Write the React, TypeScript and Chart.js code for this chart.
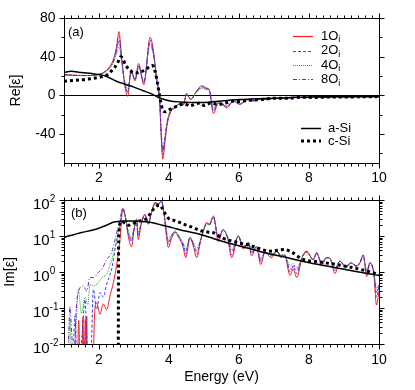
import React, { useEffect, useRef } from 'react';
import { Chart, registerables } from 'chart.js';
Chart.register(...registerables);

const FONT = "'Liberation Sans', Arial, Helvetica, sans-serif";

// ---------- axis ticks ----------
const energyTicks = [2, 4, 6, 8, 10];
const reTicks = [-40, 0, 40, 80];
const imDecades = [-2, -1, 0, 1, 2];

// ---------- panel (a): Re[eps] ----------
const reE = [1.0, 1.3, 1.6, 1.9, 2.1, 2.25, 2.4, 2.5, 2.57, 2.65, 2.73, 2.82, 2.92, 3.03, 3.13, 3.28, 3.46, 3.56, 3.65, 3.73, 3.78, 3.82, 3.88, 3.95, 4.05, 4.17, 4.3, 4.41, 4.5, 4.62, 4.78, 4.93, 5.08, 5.15, 5.27, 5.41, 5.5, 5.65, 5.84, 6.03, 6.22, 6.4, 6.6, 6.8, 7.0, 7.3, 7.6, 7.9, 8.2, 8.5, 8.8, 9.1, 9.4, 9.7, 10.0];
const re1O = [21.5, 20.8, 20.5, 21, 23, 27, 36, 50, 66, 38, 12, -1, 27, 15, 33, 11, 60, 45, 15, -5, -45, -66, -50, -30, -17, -13, -9, -10, 2, -4.5, 4, 10, 7.5, 6, -19, -8, -9, -13, -6, -9.5, -4.5, -6, -4, -4.5, -3, -3.5, -2, -2.5, -1.5, -2.2, -1.5, -2, -1.3, -1.8, -1.5];
const re2O = [21.3, 20.7, 20.5, 21, 23, 27, 35, 48, 61, 37, 13, 3, 25, 16, 31, 13, 57, 43, 16, -4, -42, -61, -47, -28, -16, -12.5, -9, -9.5, 1, -4, 3.5, 9, 7, 5.5, -16, -8, -8.5, -12, -6, -9, -4.5, -5.5, -4, -4.2, -3, -3.3, -2, -2.4, -1.5, -2.1, -1.5, -1.9, -1.3, -1.7, -1.5];
const re4O = [21, 20.6, 20.4, 20.8, 22.5, 26, 33, 43, 50, 34, 15, 7, 23, 17, 28, 15, 52, 40, 17, -2, -38, -55, -43, -26, -15, -12, -9, -9, 0, -3.5, 3, 7, 6, 4.5, -13, -7.5, -8, -11, -6, -8.5, -4.5, -5.3, -4, -4, -3, -3.2, -2, -2.3, -1.5, -2, -1.5, -1.8, -1.3, -1.6, -1.5];
const re8O = [21.2, 20.6, 20.4, 20.8, 22.8, 26.5, 34, 46, 57, 36, 14, 4, 24, 16, 30, 14, 55, 42, 16, -3, -40, -58, -45, -27, -15.5, -12.5, -9, -9.3, 0.5, -4, 3.2, 8, 6.5, 5, -15, -8, -8.2, -11.5, -6, -8.8, -4.5, -5.4, -4, -4.1, -3, -3.2, -2, -2.3, -1.5, -2, -1.5, -1.8, -1.3, -1.6, -1.5];

const reASiE = [1.0, 1.2, 1.5, 1.8, 2.0, 2.2, 2.5, 2.75, 3.0, 3.25, 3.5, 3.75, 4.0, 4.3, 4.6, 5.0, 5.5, 6.0, 6.5, 7.0, 7.5, 8.0, 8.5, 9.0, 9.5, 10.0];
const reASi = [23.5, 25, 23.5, 22.5, 21.5, 19.7, 14.5, 11.5, 8.5, 5, 1.5, -3, -5.5, -6.8, -7.3, -7.3, -5.8, -4.3, -3.6, -3, -2.3, -1.8, -1.5, -1.3, -1.1, -1];

const reCSiE = [1.0, 1.3, 1.6, 1.9, 2.1, 2.25, 2.35, 2.45, 2.55, 2.62, 2.68, 2.75, 2.85, 2.95, 3.05, 3.15, 3.25, 3.35, 3.45, 3.52, 3.6, 3.66, 3.72, 3.77, 3.82, 3.9, 4.0, 4.12, 4.3, 4.45, 4.6, 4.75, 4.9, 5.0, 5.2, 5.4, 5.6, 5.8, 6.0, 6.3, 6.6, 7.0, 7.4, 7.8, 8.2, 8.6, 9.0, 9.5, 10.0];
const reCSi = [14.5, 15.5, 16.5, 18, 19.5, 21.5, 25, 29, 35, 40, 38, 32, 27, 24, 23, 24, 25, 27, 30, 31, 25, 15, 2, -8, -15, -17, -15, -13, -10, -9, -11, -9, -8, -10.5, -8, -9.5, -8, -6, -6.5, -5, -4.5, -3, -3, -2, -2.2, -1.8, -1.8, -1.5, -1.3];

// ---------- panel (b): Im[eps] ----------
const imAboveE = [2.68, 2.75, 2.82, 2.93, 3.0, 3.07, 3.12, 3.2, 3.31, 3.41, 3.5, 3.6, 3.7, 3.79, 3.86, 3.92, 3.98, 4.08, 4.17, 4.31, 4.4, 4.48, 4.6, 4.7, 4.79, 4.9, 5.0, 5.08, 5.15, 5.27, 5.41, 5.55, 5.68, 5.79, 5.98, 6.12, 6.27, 6.36, 6.5, 6.62, 6.74, 6.93, 7.08, 7.2, 7.3, 7.46, 7.55, 7.65, 7.8, 7.93, 8.12, 8.22, 8.36, 8.5, 8.6, 8.74, 8.88, 9.05, 9.2, 9.35, 9.45, 9.55, 9.65, 9.74, 9.85, 9.93, 10.0];
const im1OAbove = [58, 35, 12, 5, 14, 29, 8, 20, 40, 21, 45, 85, 80, 94, 40, 12, 4.8, 9, 12.5, 8, 5, 2.5, 9, 5, 2.5, 7, 16, 24, 21, 36, 7, 15, 8, 2.5, 10, 4.3, 6.6, 2.8, 5, 1.6, 3.5, 2.5, 3.8, 2.5, 3, 0.8, 1.2, 0.7, 2.5, 3.8, 2.2, 3.5, 1.5, 2.5, 2.4, 0.9, 2.0, 1.3, 1.8, 1.4, 1.8, 3.0, 0.75, 1.8, 0.9, 0.12, 0.3];
const im2OAbove = [60, 36, 14, 7, 15, 28, 10, 21, 39, 22, 45, 82, 78, 90, 40, 13, 6, 10, 13, 8.5, 5.5, 3.2, 9, 5.5, 3.2, 7.5, 16, 23, 21, 34, 8, 15, 8.5, 3, 10, 4.8, 6.6, 3.2, 5, 1.9, 3.5, 2.8, 3.8, 2.7, 3, 1.0, 1.4, 0.9, 2.5, 3.7, 2.2, 3.4, 1.7, 2.5, 2.4, 1.1, 2.0, 1.4, 1.8, 1.5, 1.8, 2.9, 0.9, 1.8, 1.0, 0.2, 0.4];
const im4OAbove = [55, 36, 16, 9, 17, 30, 13, 22, 38, 24, 44, 78, 76, 85, 42, 16, 8, 11, 14, 9, 6.5, 4.5, 9, 6.5, 4.5, 8, 16, 22, 20, 32, 9.5, 15, 9.5, 4.5, 10, 5.5, 6.6, 4, 5, 2.5, 3.5, 3.2, 3.8, 3, 3, 1.5, 1.7, 1.3, 2.5, 3.5, 2.3, 3.2, 1.9, 2.5, 2.3, 1.3, 2.0, 1.5, 1.8, 1.5, 1.7, 2.7, 1.1, 1.8, 1.1, 0.35, 0.45];
const im8OAbove = [57, 35, 15, 8, 16, 28, 11, 21, 38, 23, 44, 80, 77, 88, 41, 14, 7, 10.5, 13, 8.5, 6, 3.8, 9, 6, 3.8, 7.5, 16, 22, 20, 33, 9, 15, 9, 3.8, 10, 5, 6.6, 3.6, 5, 2.2, 3.5, 3, 3.8, 2.8, 3, 1.2, 1.5, 1.1, 2.5, 3.6, 2.2, 3.3, 1.8, 2.5, 2.3, 1.2, 2.0, 1.4, 1.8, 1.5, 1.7, 2.8, 1.0, 1.8, 1.0, 0.28, 0.42];

const im1OSubE = [1.0, 1.38, 1.42, 1.46, 1.51, 1.54, 1.57, 1.61, 1.63, 1.65, 1.67, 1.7, 1.83, 1.87, 1.93, 2.03, 2.12, 2.22, 2.31, 2.41, 2.5, 2.6];
const im1OSub = [0.003, 0.003, 0.045, 0.003, 0.003, 0.055, 0.003, 0.05, 0.003, 0.06, 0.003, 0.003, 0.003, 0.06, 0.14, 0.067, 0.13, 0.09, 0.21, 0.5, 1.5, 8];
const im2OSubE = [1.0, 1.25, 1.31, 1.37, 1.45, 1.52, 1.6, 1.68, 1.76, 1.84, 1.93, 2.03, 2.12, 2.22, 2.36, 2.46, 2.6];
const im2OSub = [0.003, 0.003, 0.06, 0.003, 0.003, 0.02, 0.17, 0.003, 0.003, 0.33, 0.09, 0.27, 0.2, 0.46, 1.2, 4.3, 23];
const im4OSubE = [1.0, 1.12, 1.17, 1.22, 1.3, 1.36, 1.41, 1.5, 1.6, 1.68, 1.74, 1.84, 1.98, 2.08, 2.22, 2.31, 2.46, 2.6];
const im4OSub = [0.003, 0.003, 0.05, 0.003, 0.003, 0.06, 0.33, 0.07, 0.2, 0.12, 0.45, 0.41, 0.5, 0.7, 0.86, 1.5, 4.8, 20];
const im8OSubE = [1.0, 1.1, 1.17, 1.22, 1.28, 1.35, 1.42, 1.55, 1.65, 1.74, 1.84, 1.98, 2.1, 2.22, 2.36, 2.46, 2.6];
const im8OSub = [0.003, 0.003, 0.11, 0.02, 0.003, 0.1, 0.3, 0.41, 0.3, 0.7, 0.7, 0.96, 1.3, 2.2, 3.5, 8, 29];

const imASiE = [1.0, 1.1, 1.3, 1.5, 1.8, 2.0, 2.2, 2.4, 2.6, 2.8, 3.0, 3.2, 3.4, 3.6, 3.8, 4.0, 4.2, 4.5, 4.9, 5.3, 5.8, 6.3, 6.8, 7.3, 7.8, 8.3, 8.8, 9.3, 9.7, 10.0];
const imASi = [9, 9.8, 11, 12.5, 14.5, 16.5, 19.5, 24, 25.5, 26, 26, 25.5, 24.5, 22.5, 20, 18, 16, 13.5, 11, 8.3, 6, 4.5, 3.3, 2.6, 2.0, 1.6, 1.3, 1.05, 0.9, 0.8];

const imCSiE = [2.5, 2.545, 2.56, 2.6, 2.65, 2.75, 2.85, 2.95, 3.05, 3.15, 3.25, 3.35, 3.45, 3.55, 3.65, 3.72, 3.8, 3.9, 4.0, 4.15, 4.3, 4.5, 4.7, 4.9, 5.1, 5.3, 5.5, 5.9, 6.3, 6.9, 7.3, 7.5, 7.8, 8.3, 8.8, 9.2, 9.6, 10.0];
const imCSi = [0.0001, 0.0001, 5, 22, 26, 22, 20, 22, 24, 26, 27, 30, 40, 55, 68, 72, 60, 40, 30, 27, 24, 20, 17, 14, 13, 12, 9, 6.8, 5.5, 3.8, 4.2, 3.6, 2.3, 1.9, 1.6, 1.35, 1.1, 0.85];

// ---------- styles ----------
const RED = '#ff1a1a';
const BLUE = '#3c3cff';
const GREEN = '#22aa22';
const PURPLE = '#6a1fc4';

const colorSeries = [
  { name: '1O', sub: 'i', color: RED, dash: [] as number[] },
  { name: '2O', sub: 'i', color: BLUE, dash: [3, 2] },
  { name: '4O', sub: 'i', color: GREEN, dash: [1, 1] },
  { name: '8O', sub: 'i', color: PURPLE, dash: [4, 2, 1, 2] },
];

function pts(xs: number[], ys: number[]) {
  return xs.map((x, i) => ({ x, y: ys[i] }));
}

function lineDs(label: string, data: any[], color: string, width: number, dash: number[]) {
  return {
    label,
    data,
    borderColor: color,
    backgroundColor: color,
    borderWidth: width,
    borderDash: dash,
    borderCapStyle: 'butt',
    pointRadius: 0,
    fill: false,
    cubicInterpolationMode: 'monotone',
  };
}

function frameTicks(kind: 're' | 'im') {
  return {
    id: 'frameTicks_' + kind,
    beforeDatasetsDraw(chart: any) {
      if (kind !== 're') return;
      const { ctx, chartArea: a } = chart;
      const y0 = Math.round(chart.scales.y.getPixelForValue(0)) + 0.5;
      ctx.save();
      ctx.strokeStyle = '#000';
      ctx.lineWidth = 1;
      ctx.beginPath();
      ctx.moveTo(a.left, y0);
      ctx.lineTo(a.right, y0);
      ctx.stroke();
      ctx.restore();
    },
    afterDatasetsDraw(chart: any) {
      const { ctx, chartArea: a } = chart;
      const xs = chart.scales.x;
      const ys = chart.scales.y;
      const L = Math.round(a.left) + 0.5;
      const R = Math.round(a.right) + 0.5;
      const T = Math.round(a.top) + 0.5;
      const B = Math.round(a.bottom) + 0.5;
      ctx.save();
      ctx.strokeStyle = '#000';
      ctx.lineWidth = 1;
      ctx.setLineDash([]);
      ctx.strokeRect(L, T, R - L, B - T);
      ctx.beginPath();
      for (let i = 0; i <= 45; i++) {
        const v = 1 + i * 0.2;
        const major = energyTicks.some((t) => Math.abs(t - v) < 1e-6);
        const len = major ? 5 : 3;
        const px = Math.round(xs.getPixelForValue(v)) + 0.5;
        ctx.moveTo(px, B);
        ctx.lineTo(px, B + len);
        ctx.moveTo(px, T);
        ctx.lineTo(px, T - len);
      }
      const yT: [number, boolean][] = [];
      if (kind === 're') {
        for (let v = -60; v <= 80; v += 20) yT.push([v, v % 40 === 0]);
      } else {
        for (const d of imDecades) {
          yT.push([Math.pow(10, d), true]);
          if (d < 2) for (let m = 2; m <= 9; m++) yT.push([m * Math.pow(10, d), false]);
        }
      }
      for (const [v, major] of yT) {
        const py = Math.round(ys.getPixelForValue(v)) + 0.5;
        const len = major ? 5 : 3;
        ctx.moveTo(L - len, py);
        ctx.lineTo(L, py);
        ctx.moveTo(R, py);
        ctx.lineTo(R + len, py);
      }
      ctx.stroke();
      ctx.restore();
    },
  };
}

const legendA = {
  id: 'legendA',
  afterDraw(chart: any) {
    const { ctx } = chart;
    ctx.save();
    ctx.fillStyle = '#000';
    ctx.textBaseline = 'middle';
    ctx.font = '13px ' + FONT;
    ctx.fillText('(a)', 68, 32);
    const rows = [36, 50.5, 65, 79.3];
    colorSeries.forEach((s, i) => {
      const y = Math.round(rows[i]) + 0.5;
      ctx.strokeStyle = s.color;
      ctx.lineWidth = 1.2;
      ctx.setLineDash(s.dash);
      ctx.beginPath();
      ctx.moveTo(293, y);
      ctx.lineTo(313, y);
      ctx.stroke();
      ctx.setLineDash([]);
      ctx.font = '13px ' + FONT;
      ctx.fillStyle = '#000';
      ctx.fillText(s.name, 321, rows[i]);
      const w = ctx.measureText(s.name).width;
      ctx.font = '9px ' + FONT;
      ctx.fillText(s.sub, 321 + w, rows[i] + 4);
    });
    const blk = [
      { name: 'a-Si', y: 128.5, width: 1.5, dash: [] as number[] },
      { name: 'c-Si', y: 141, width: 3, dash: [3, 3] },
    ];
    blk.forEach((b) => {
      ctx.strokeStyle = '#000';
      ctx.lineWidth = b.width;
      ctx.setLineDash(b.dash);
      ctx.beginPath();
      ctx.moveTo(301, b.y);
      ctx.lineTo(321, b.y);
      ctx.stroke();
      ctx.setLineDash([]);
      ctx.font = '13px ' + FONT;
      ctx.fillText(b.name, 328, b.y);
    });
    ctx.restore();
  },
};

const labelsB = {
  id: 'labelsB',
  afterDraw(chart: any) {
    const { ctx } = chart;
    const ys = chart.scales.y;
    ctx.save();
    ctx.fillStyle = '#000';
    ctx.textBaseline = 'middle';
    ctx.font = '13px ' + FONT;
    ctx.fillText('(b)', 71, 23);
    ctx.textBaseline = 'alphabetic';
    for (const d of imDecades) {
      const y = ys.getPixelForValue(Math.pow(10, d));
      ctx.font = '15px ' + FONT;
      ctx.fillText('10', 33, y + 8.5);
      const w = ctx.measureText('10').width;
      ctx.font = '10px ' + FONT;
      ctx.fillText(String(d), 33 + w, y + 1.5);
    }
    ctx.restore();
  },
};

const noGrid = { display: false, drawTicks: false, tickLength: 0 };

function makeRe(canvas: HTMLCanvasElement) {
  return new Chart(canvas, {
    type: 'line',
    data: {
      datasets: [
        lineDs('c-Si', pts(reCSiE, reCSi), '#000', 3, [3, 3]),
        lineDs('a-Si', pts(reASiE, reASi), '#000', 1.5, []),
        lineDs('8Oi', pts(reE, re8O), PURPLE, 1, [4, 2, 1, 2]),
        lineDs('4Oi', pts(reE, re4O), GREEN, 1, [1, 1]),
        lineDs('2Oi', pts(reE, re2O), BLUE, 1, [3, 2]),
        lineDs('1Oi', pts(reE, re1O), RED, 1, []),
      ] as any,
    },
    options: {
      animation: false,
      responsive: false,
      devicePixelRatio: 1,
      layout: { padding: { left: 0, right: 36, top: 18, bottom: 0 } },
      plugins: { legend: { display: false }, tooltip: { enabled: false } },
      scales: {
        x: {
          type: 'linear',
          min: 1,
          max: 10,
          grid: noGrid,
          border: { display: false },
          afterBuildTicks: (s: any) => { s.ticks = energyTicks.map((v) => ({ value: v })); },
          afterFit: (s: any) => { s.height = 27; },
          ticks: { padding: 6.6, color: '#000', font: { size: 14, family: FONT }, maxRotation: 0, autoSkip: false },
        },
        y: {
          type: 'linear',
          min: -70,
          max: 80,
          grid: noGrid,
          border: { display: false },
          afterBuildTicks: (s: any) => { s.ticks = reTicks.map((v) => ({ value: v })); },
          afterFit: (s: any) => { s.width = 64; },
          ticks: { padding: 8.5, color: '#000', font: { size: 14, family: FONT } },
          title: { display: true, text: 'Re[ε]', color: '#000', font: { size: 14, family: FONT }, padding: { top: 8, bottom: 0 } },
        },
      },
    } as any,
    plugins: [frameTicks('re'), legendA] as any,
  });
}

function makeIm(canvas: HTMLCanvasElement) {
  return new Chart(canvas, {
    type: 'line',
    data: {
      datasets: [
        lineDs('c-Si', pts(imCSiE, imCSi), '#000', 3, [3, 3]),
        lineDs('a-Si', pts(imASiE, imASi), '#000', 1.5, []),
        lineDs('8Oi', pts(im8OSubE.concat(imAboveE), im8OSub.concat(im8OAbove)), PURPLE, 1, [4, 2, 1, 2]),
        lineDs('4Oi', pts(im4OSubE.concat(imAboveE), im4OSub.concat(im4OAbove)), GREEN, 1, [1, 1]),
        lineDs('2Oi', pts(im2OSubE.concat(imAboveE), im2OSub.concat(im2OAbove)), BLUE, 1, [3, 2]),
        lineDs('1Oi', pts(im1OSubE.concat(imAboveE), im1OSub.concat(im1OAbove)), RED, 1, []),
      ] as any,
    },
    options: {
      animation: false,
      responsive: false,
      devicePixelRatio: 1,
      layout: { padding: { left: 0, right: 36, top: 10, bottom: 0 } },
      plugins: { legend: { display: false }, tooltip: { enabled: false } },
      scales: {
        x: {
          type: 'linear',
          min: 1,
          max: 10,
          grid: noGrid,
          border: { display: false },
          afterBuildTicks: (s: any) => { s.ticks = energyTicks.map((v) => ({ value: v })); },
          afterFit: (s: any) => { s.height = 46; },
          ticks: { padding: 7.6, color: '#000', font: { size: 14, family: FONT }, maxRotation: 0, autoSkip: false },
          title: { display: true, text: 'Energy (eV)', color: '#000', font: { size: 14, family: FONT }, padding: { top: 0, bottom: 4.6 } },
        },
        y: {
          type: 'logarithmic',
          min: 0.01,
          max: 100,
          grid: noGrid,
          border: { display: false },
          afterFit: (s: any) => { s.width = 64; },
          ticks: { display: false },
          title: { display: true, text: 'Im[ε]', color: '#000', font: { size: 14, family: FONT }, padding: { top: 1.6, bottom: 0 } },
        },
      },
    } as any,
    plugins: [frameTicks('im'), labelsB] as any,
  });
}

export default function App() {
  const reRef = useRef<HTMLCanvasElement>(null);
  const imRef = useRef<HTMLCanvasElement>(null);
  useEffect(() => {
    Chart.defaults.font.family = FONT;
    Chart.defaults.color = '#000';
    const c1 = makeRe(reRef.current as HTMLCanvasElement);
    const c2 = makeIm(imRef.current as HTMLCanvasElement);
    return () => {
      c1.destroy();
      c2.destroy();
    };
  }, []);
  return (
    <div style={{ position: 'absolute', left: 0, top: 0, width: 415, height: 390, background: '#fff' }}>
      <canvas ref={reRef} width={415} height={190} style={{ position: 'absolute', left: 0, top: 0, width: 415, height: 190 }} />
      <canvas ref={imRef} width={415} height={200} style={{ position: 'absolute', left: 0, top: 190, width: 415, height: 200 }} />
    </div>
  );
}
